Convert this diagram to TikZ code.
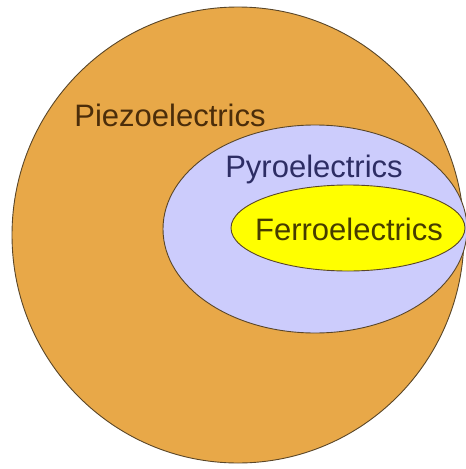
\documentclass[tikz,border=0pt]{standalone}
\usepackage{fontspec}
\setmainfont{Liberation Sans}
\definecolor{piezofill}{RGB}{232,168,72}
\definecolor{pyrofill}{RGB}{204,204,252}
\definecolor{ferrofill}{RGB}{255,255,0}
\definecolor{edgecol}{RGB}{90,70,40}
\definecolor{piezotext}{RGB}{75,45,10}
\definecolor{pyrotext}{RGB}{45,45,100}
\definecolor{ferrotext}{RGB}{70,60,0}
\tikzset{
  setshape/.style={draw=edgecol, line width=0.9pt},
  settext/.style={font=\fontsize{31}{36}\selectfont, inner sep=0pt, anchor=base}
}
\begin{document}
\begin{tikzpicture}[x=1pt,y=-1pt]
\useasboundingbox (0,0) rectangle (466,469);
\fill[white] (0,0) rectangle (466,469);
\begin{scope}
\clip (0,0) rectangle (466,469);
\path[setshape, fill=piezofill] (238,235) ellipse [x radius=226, y radius=228];
\path[setshape, fill=pyrofill] (315,229) ellipse [x radius=152, y radius=104];
\path[setshape, fill=ferrofill] (348,228) ellipse [x radius=117, y radius=43];
\end{scope}
\node[settext, text=piezotext] (piezo) at (170,126) {Piezoelectrics};
\node[settext, text=pyrotext] (pyro) at (314,177) {Pyroelectrics};
\node[settext, text=ferrotext] (ferro) at (349,240) {Ferroelectrics};
\end{tikzpicture}
\end{document}
